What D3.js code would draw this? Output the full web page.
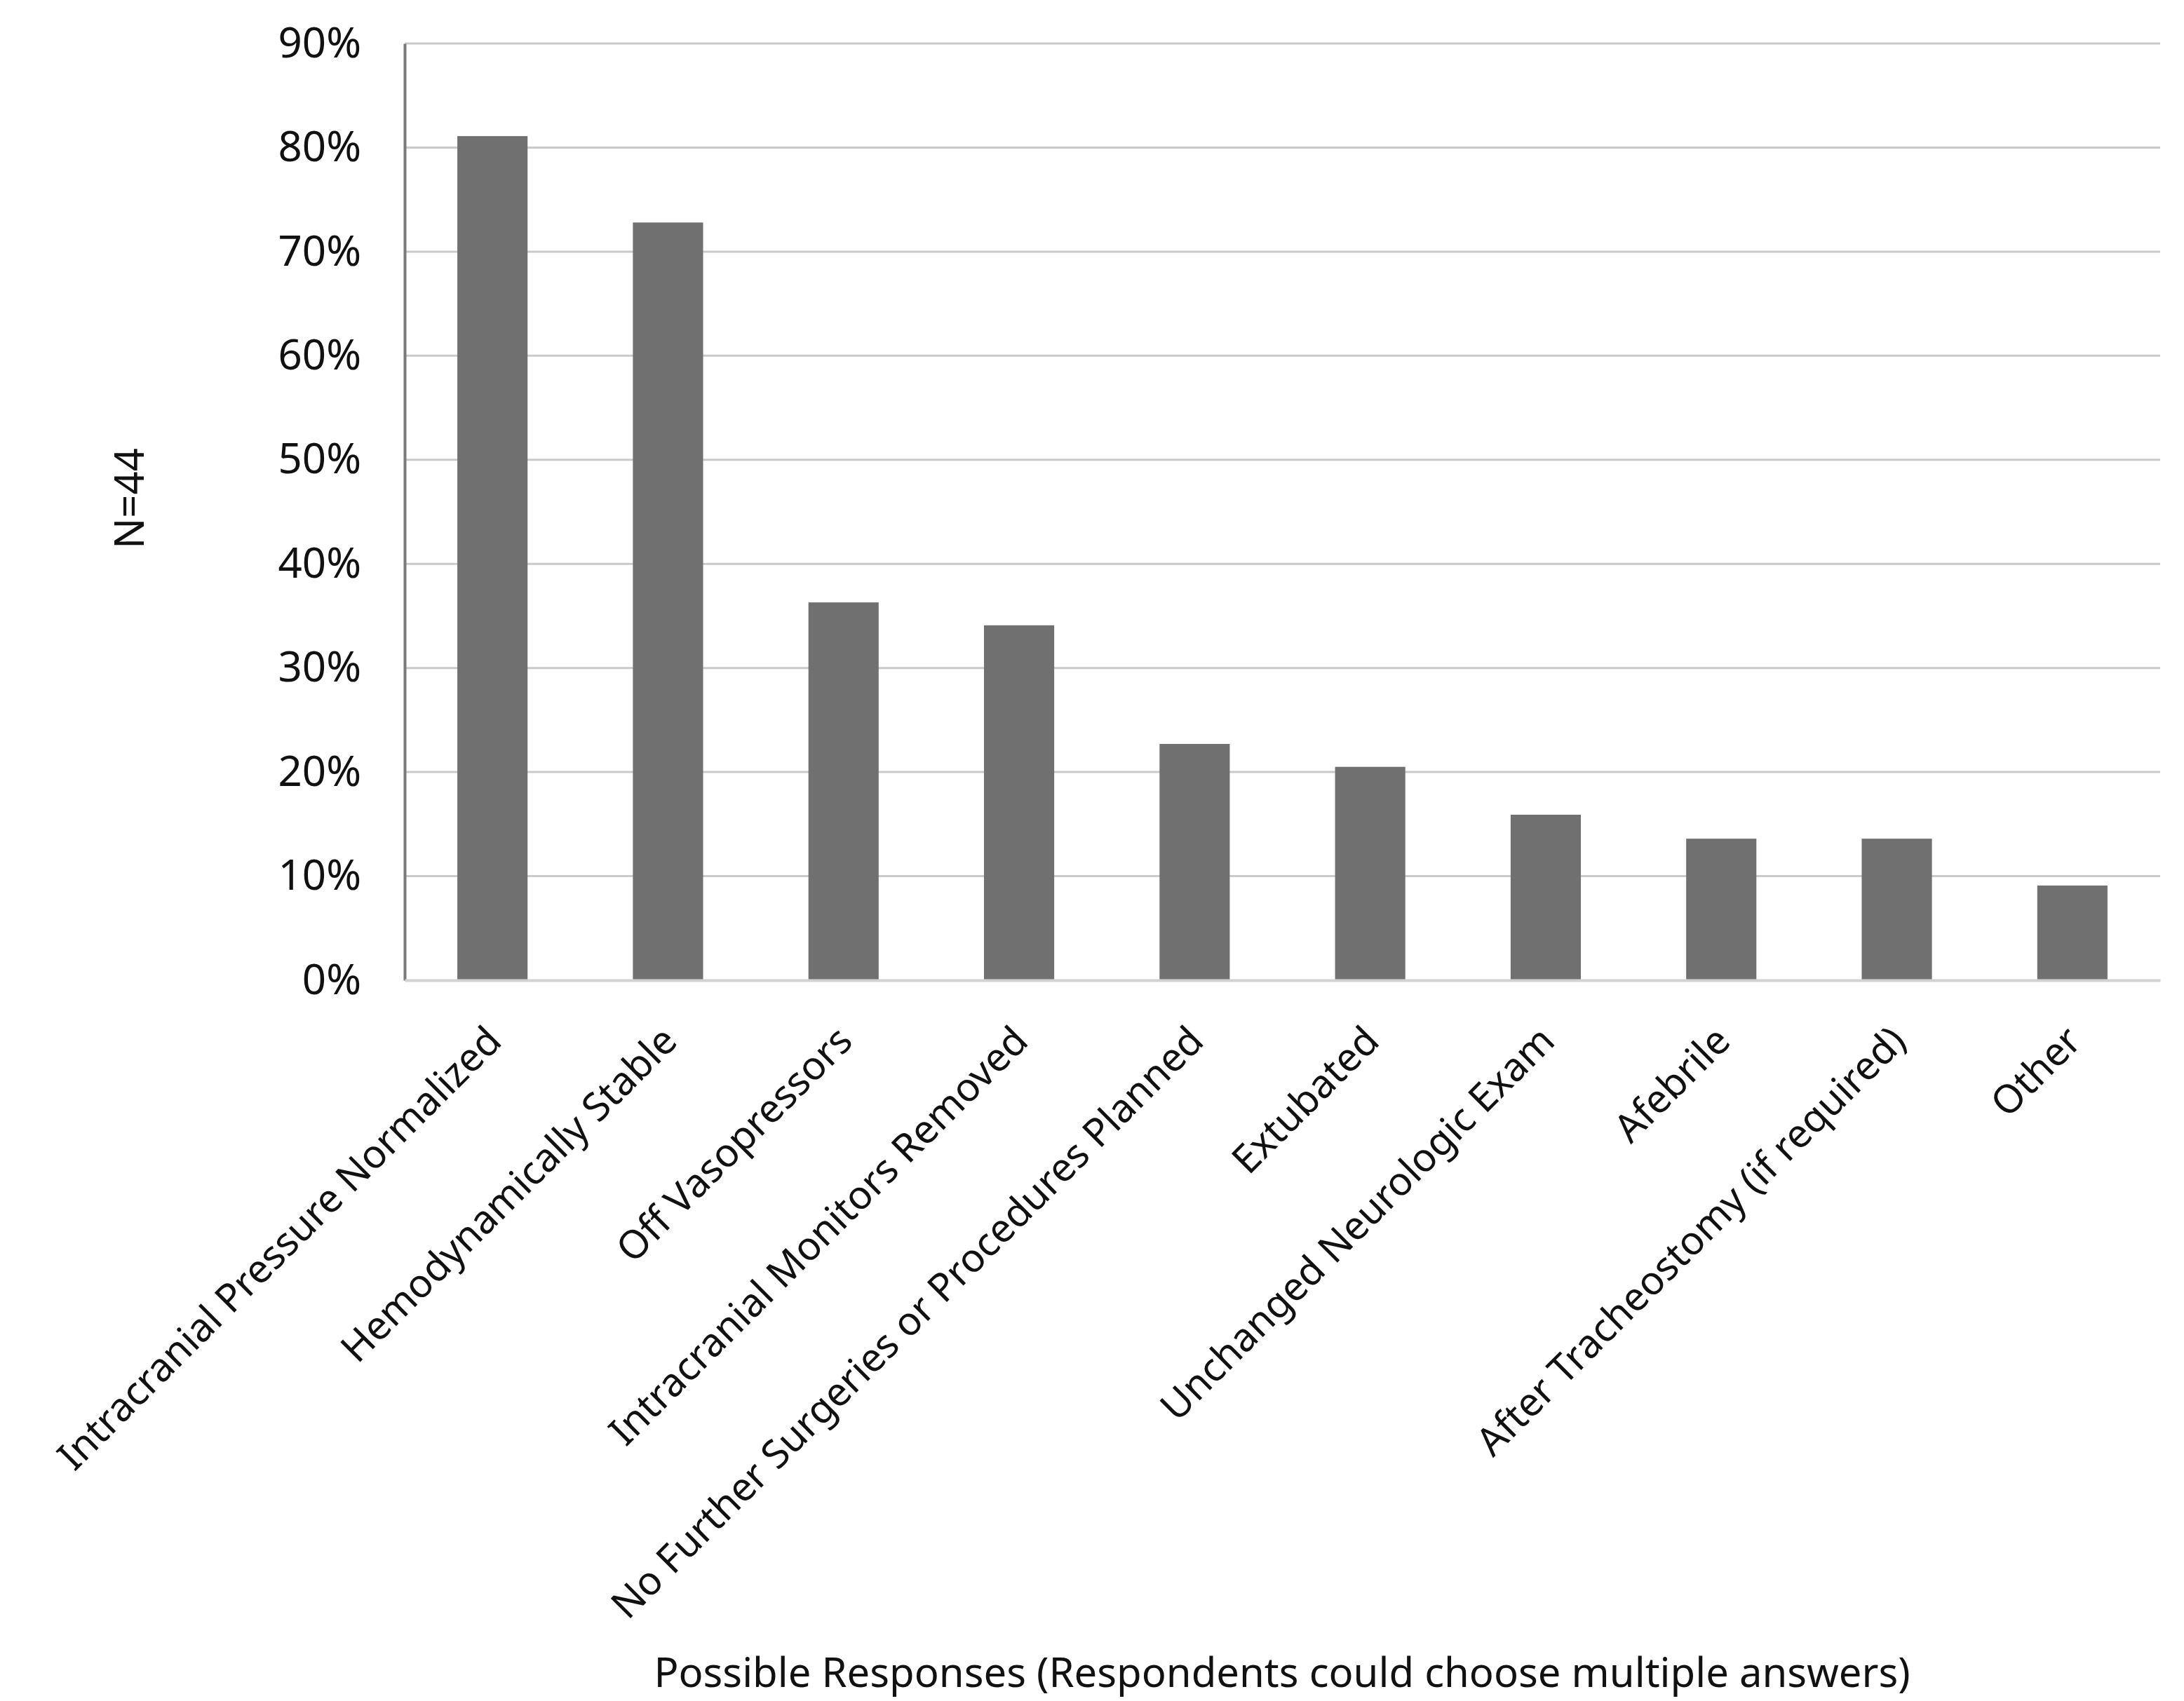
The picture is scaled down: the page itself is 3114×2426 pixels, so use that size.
<!DOCTYPE html>
<html>
<head>
<meta charset="utf-8">
<script src="https://cdn.jsdelivr.net/npm/d3@7"></script>
<style>
  body { margin: 0; background: #fff; }
  text { font-family: "Noto Sans", sans-serif; fill: #111; }
</style>
</head>
<body>
<script>
//Data
const categories = ['Intracranial Pressure Normalized', 'Hemodynamically Stable', 'Off Vasopressors',
  'Intracranial Monitors Removed', 'No Further Surgeries or Procedures Planned', 'Extubated',
  'Unchanged Neurologic Exam', 'Afebrile', 'After Tracheostomy (if required)', 'Other']
const percents = [81.1, 72.8, 36.3, 34.1, 22.7, 20.5, 15.9, 13.6, 13.6, 9.1]
const yTicks = [0, 10, 20, 30, 40, 50, 60, 70, 80, 90]
const yTitle = 'N=44'
const xTitle = 'Possible Responses (Respondents could choose multiple answers)'

//Setting the dimensions and creating the svg
const width = 3114
const height = 2426
const margin = {top: 62, right: 34, bottom: 1028, left: 577}
const innerWidth = width - margin.left - margin.right
const innerHeight = height - margin.top - margin.bottom

const svg = d3.select('body').append('svg').attr('width', width).attr('height', height)
const grp = svg.append('g').attr('transform', 'translate(' + margin.left + ',' + margin.top + ')')

//Scales
const x = d3.scaleBand().domain(categories).range([0, innerWidth]).paddingInner(0.6).paddingOuter(0.3)
const y = d3.scaleLinear().domain([0, 90]).range([innerHeight, 0])

//Gridlines
grp.selectAll('line.grid')
  .data(yTicks.filter(d => d > 0))
  .enter().append('line')
  .attr('class', 'grid')
  .attr('x1', 0).attr('x2', innerWidth)
  .attr('y1', d => y(d)).attr('y2', d => y(d))
  .attr('stroke', '#cacaca')
  .attr('stroke-width', 3)

//Y axis with percent labels
const yAxis = grp.append('g')
  .call(d3.axisLeft(y).tickValues(yTicks).tickSize(0).tickPadding(62).tickFormat(d => d + '%'))
yAxis.select('.domain').attr('stroke', '#7a7a7a').attr('stroke-width', 4)
yAxis.selectAll('text').attr('font-size', 60).attr('fill', '#111')
  .style('font-family', '"Noto Sans", sans-serif')

//Bars
grp.selectAll('rect.bar')
  .data(percents)
  .enter().append('rect')
  .attr('class', 'bar')
  .attr('x', (d, i) => x(categories[i]))
  .attr('y', d => y(d))
  .attr('width', x.bandwidth())
  .attr('height', d => innerHeight - y(d))
  .attr('fill', '#707070')

//X axis with rotated labels
const xAxis = grp.append('g')
  .attr('transform', 'translate(0,' + innerHeight + ')')
  .call(d3.axisBottom(x).tickSize(0).tickSizeOuter(0))
xAxis.select('.domain').attr('stroke', '#d2d2d2').attr('stroke-width', 4)
xAxis.selectAll('text')
  .attr('font-size', 56)
  .attr('fill', '#111')
  .style('font-family', '"Noto Sans", sans-serif')
  .attr('text-anchor', 'end')
  .attr('dy', '0.7em')
  .attr('transform', 'translate(-14,60) rotate(-45)')

//Axis titles
svg.append('text')
  .attr('transform', 'translate(' + 205 + ',' + 711 + ') rotate(-90)')
  .attr('text-anchor', 'middle')
  .attr('font-size', 58)
  .text(yTitle)

svg.append('text')
  .attr('x', 1828)
  .attr('y', 2406)
  .attr('text-anchor', 'middle')
  .attr('font-size', 58)
  .text(xTitle)
</script>
</body>
</html>
